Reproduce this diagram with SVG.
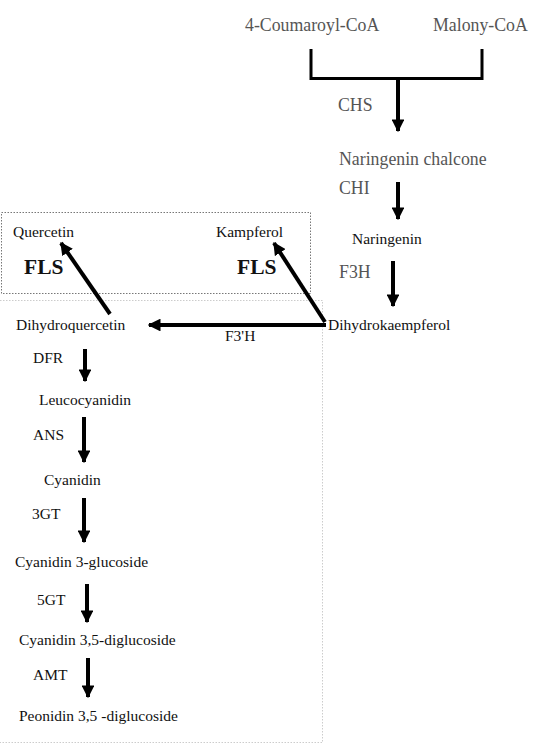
<svg xmlns="http://www.w3.org/2000/svg" width="540" height="755" viewBox="0 0 540 755">
<style>
text{font-family:"Liberation Serif","Times New Roman",serif;}
.g{fill:#555;font-size:17.8px;}
.b{fill:#111;font-size:15.5px;}
.fls{fill:#111;font-size:21.5px;font-weight:bold;}
.ar{stroke:#000;stroke-width:4;fill:none;}
.box{fill:none;stroke:#777;stroke-width:1;stroke-dasharray:1.5 1.5;}
.box2{fill:none;stroke:#ccc;stroke-width:1;stroke-dasharray:1.5 1.5;}
</style>
<defs>
<marker id="ah" viewBox="0 0 10 10" refX="9" refY="5" markerWidth="3.2" markerHeight="3.2" orient="auto" markerUnits="strokeWidth">
<path d="M0,0 L10,5 L0,10 z" fill="#000"/>
</marker>
</defs>
<rect width="540" height="755" fill="#fff"/>
<g id="frames">
<rect class="box" x="1.5" y="212.5" width="309" height="81"/>
<path class="box2" d="M0,300.5 H322.5 V742.5 H0"/>
</g>
<g id="connectors">
<path d="M311,49 V78.5 H482 V49" fill="none" stroke="#000" stroke-width="3"/>
<line class="ar" x1="398" y1="78" x2="398" y2="131" marker-end="url(#ah)"/>
<line class="ar" x1="398" y1="182" x2="398" y2="219" marker-end="url(#ah)"/>
<line class="ar" x1="393" y1="261" x2="393" y2="306" marker-end="url(#ah)"/>
<line class="ar" x1="326" y1="325" x2="149" y2="325" marker-end="url(#ah)"/>
<line class="ar" x1="325" y1="322" x2="274" y2="243" marker-end="url(#ah)"/>
<line class="ar" x1="110" y1="314" x2="61" y2="243" marker-end="url(#ah)"/>
<line class="ar" x1="85" y1="349" x2="85" y2="381" marker-end="url(#ah)"/>
<line class="ar" x1="84" y1="417" x2="84" y2="462" marker-end="url(#ah)"/>
<line class="ar" x1="84" y1="498" x2="84" y2="542" marker-end="url(#ah)"/>
<line class="ar" x1="87" y1="584" x2="87" y2="622" marker-end="url(#ah)"/>
<line class="ar" x1="88" y1="658" x2="88" y2="697" marker-end="url(#ah)"/>
</g>
<g id="n-coumaroyl"><text class="g" x="245" y="31">4-Coumaroyl-CoA</text></g>
<g id="n-malony"><text class="g" x="433" y="31">Malony-CoA</text></g>
<g id="e-chs"><text class="g" x="338" y="111">CHS</text></g>
<g id="n-chalcone"><text class="g" x="339" y="165">Naringenin chalcone</text></g>
<g id="e-chi"><text class="g" x="339" y="194">CHI</text></g>
<g id="n-naringenin"><text class="b" x="352" y="244">Naringenin</text></g>
<g id="e-f3h"><text class="g" x="339" y="278">F3H</text></g>
<g id="n-dhk"><text class="b" x="328" y="330">Dihydrokaempferol</text></g>
<g id="n-quercetin"><text class="b" x="13" y="237">Quercetin</text></g>
<g id="n-kampferol"><text class="b" x="216" y="237">Kampferol</text></g>
<g id="e-fls1"><text class="fls" x="24" y="274">FLS</text></g>
<g id="e-fls2"><text class="fls" x="237" y="274">FLS</text></g>
<g id="n-dhq"><text class="b" x="16" y="330">Dihydroquercetin</text></g>
<g id="e-f3h2"><text class="b" x="225" y="341">F3'H</text></g>
<g id="e-dfr"><text class="b" x="33" y="363">DFR</text></g>
<g id="n-leuco"><text class="b" x="39" y="405">Leucocyanidin</text></g>
<g id="e-ans"><text class="b" x="33" y="440">ANS</text></g>
<g id="n-cyanidin"><text class="b" x="44" y="485">Cyanidin</text></g>
<g id="e-3gt"><text class="b" x="32" y="519">3GT</text></g>
<g id="n-c3g"><text class="b" x="15" y="567">Cyanidin 3-glucoside</text></g>
<g id="e-5gt"><text class="b" x="37" y="605">5GT</text></g>
<g id="n-c35"><text class="b" x="19" y="645">Cyanidin 3,5-diglucoside</text></g>
<g id="e-amt"><text class="b" x="33" y="680">AMT</text></g>
<g id="n-p35"><text class="b" x="19" y="721">Peonidin 3,5 -diglucoside</text></g>
</svg>
